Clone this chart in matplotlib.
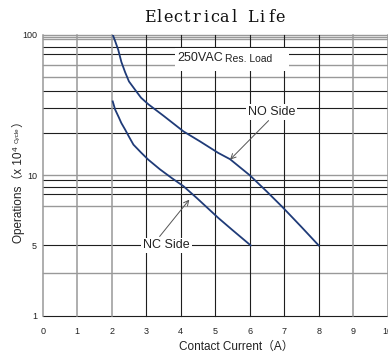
#!/usr/bin/env python3
"""Electrical life curve: operations vs. contact current, NO / NC side."""
import numpy as np
import matplotlib

matplotlib.use("Agg")
import matplotlib.pyplot as plt
from matplotlib.patches import Rectangle

plt.rcParams["font.family"] = ["Liberation Sans", "DejaVu Sans", "Noto Sans CJK SC"]

TITLE = "Electrical Life"
LOAD_MAIN = "250VAC"
LOAD_SUB = "Res. Load"
X_LABEL = "Contact Current（A）"
X_TICKS = list(range(0, 11))
Y_TICKS = [1, 5, 10, 100]

# NO side (x10^4 cycles)
no_current = [2.03, 2.1, 2.19, 2.28, 2.39, 2.5, 2.68, 2.85, 3.06, 3.5, 4.08, 4.56, 5.09, 5.43,
              6.0, 6.5, 6.95, 7.5, 8.0]
no_ops = [100, 90, 78, 64, 54, 46.5, 40.5, 35.6, 32, 26.5, 20.5, 17.4, 14.4, 13.0,
          10, 8.5, 7.3, 6.0, 5]

# NC side
nc_current = [2.03, 2.1, 2.2, 2.28, 2.39, 2.5, 2.63, 2.85, 3.06, 3.4, 3.75, 4.08, 4.46, 5.09,
              5.5, 6.03]
nc_ops = [33.5, 29.3, 26, 23.5, 21.1, 18.8, 16.5, 14.5, 12.9, 11.0, 9.7, 8.97, 8.0, 6.56,
          5.82, 5]

# horizontal rules of the printed chart paper (True = pale grey rule)
h_rules = [100, 97, 93.5, 82, 73, 60.5, 50, 40, 30, 20, 10, 9.53, 8.94, 8.27, 7.36, 5, 2.63, 1]
h_grey = [True, True, True, False, False, True, True, False, False, False,
          True, False, False, False, True, False, True, False]
v_grey = [True, True, True, False, False, False, False, False, False, True, True]

DARK = "#1e1e1e"
GREY = "#999999"
CURVE = "#1f3b78"

W, H = 388, 355


def fwd(v):
    # the sheet's y axis: 1→5 and 5→10 each take half a decade, 10→100 is log
    v = np.clip(np.asarray(v, dtype=float), 1e-6, None)
    lo = 0.5 * np.log(v) / np.log(5)
    mid = 0.5 + 0.5 * np.log2(v / 5)
    hi = np.log10(v)
    return np.where(v >= 10, hi, np.where(v >= 5, mid, lo))


def inv(p):
    p = np.clip(np.asarray(p, dtype=float), -10, 10)
    return np.where(p >= 1, 10 ** p, np.where(p >= 0.5, 5 * 2 ** ((p - 0.5) * 2), 5 ** (2 * p)))


fig = plt.figure(figsize=(W / 100, H / 100), dpi=100)
ax = fig.add_axes([42.7 / W, 1 - 315.7 / H, 345 / W, (315.7 - 34.7) / H])
ax.set_yscale("function", functions=(fwd, inv))
ax.set_xlim(0, 10)
ax.set_ylim(1, 100)

for v, g in zip(h_rules, h_grey):
    ax.axhline(v, color=GREY if g else DARK, lw=1.0 if g else 0.8, zorder=1, clip_on=False)
for x, g in zip(X_TICKS, v_grey):
    ax.axvline(x, color=GREY if g else DARK, lw=1.1 if g else 0.8, zorder=1, clip_on=False)

for s in ax.spines.values():
    s.set_visible(False)
ax.set_xticks(X_TICKS)
ax.set_xticklabels([str(t) for t in X_TICKS])
ax.set_yticks(Y_TICKS)
ax.set_yticklabels([str(t) for t in Y_TICKS])
ax.yaxis.set_minor_locator(matplotlib.ticker.NullLocator())
ax.tick_params(axis="both", length=0, labelsize=6.5, colors="#222")
ax.tick_params(axis="x", pad=8)
ax.tick_params(axis="y", pad=4)

ax.plot(no_current, no_ops, color=CURVE, lw=1.3, zorder=3)
ax.plot(nc_current, nc_ops, color=CURVE, lw=1.3, zorder=3)

# load condition box
ax.add_patch(Rectangle((3.83, 55.5), 3.31, 25.5, facecolor="white", edgecolor="none", zorder=2))
t1 = ax.text(3.89, 68.4, LOAD_MAIN, fontsize=9, ha="left", va="center", color="#222", zorder=4)
ax.annotate(LOAD_SUB, xy=(1, 0), xycoords=t1, xytext=(2, 0), textcoords="offset points",
            ha="left", va="bottom", fontsize=7.5, color="#222", zorder=4)

box = dict(boxstyle="square,pad=0.15", fc="white", ec="none")
ax.annotate("NO Side", xy=(5.43, 12.9), xytext=(6.63, 28.3), ha="center", va="center",
            fontsize=9, color="#222", bbox=box, zorder=4,
            arrowprops=dict(arrowstyle="->", color="#555", lw=0.7, shrinkA=1, shrinkB=0,
                            relpos=(0.5, 0)))
ax.annotate("NC Side", xy=(4.25, 7.86), xytext=(3.59, 5.0), ha="center", va="center",
            fontsize=9, color="#222", bbox=box, zorder=4,
            arrowprops=dict(arrowstyle="->", color="#555", lw=0.7, shrinkA=1, shrinkB=0,
                            relpos=(0.3, 1)))

# title set in fixed-pitch cells, like the original's monospaced serif
pitch = 9.33
x0 = 215 - pitch * (len(TITLE) - 1) / 2
for i, ch in enumerate(TITLE):
    fig.text((x0 + i * pitch) / W, 1 - 18 / H, ch, family="DejaVu Serif", fontsize=11.5,
             ha="center", va="center", color="#111")

fig.text(236 / W, 1 - 347 / H, X_LABEL, fontsize=8.5, ha="center", va="center", color="#222")

# y label pieces: "Operations（x 10" + raised "4 Cycle" + "）"
yl1 = fig.text(18 / W, 1 - 243 / H, "Operations（x 10", rotation=90, ha="center", va="bottom",
               fontsize=8.5, color="#222")
yl2 = ax.annotate("4", xy=(1, 1), xycoords=yl1, xytext=(-3.5, 0.5), textcoords="offset points",
                  rotation=90, ha="right", va="bottom", fontsize=6, color="#222",
                  annotation_clip=False)
yl3 = ax.annotate("Cycle", xy=(1, 1), xycoords=yl2, xytext=(0, 2), textcoords="offset points",
                  rotation=90, ha="right", va="bottom", fontsize=4.5, color="#222",
                  annotation_clip=False)
ax.annotate("）", xy=(1, 1), xycoords=(yl1, yl3), xytext=(0, 0.5), textcoords="offset points",
            rotation=90, ha="right", va="bottom", fontsize=8.5, color="#222",
            annotation_clip=False)

fig.savefig("out.png", dpi=100)
